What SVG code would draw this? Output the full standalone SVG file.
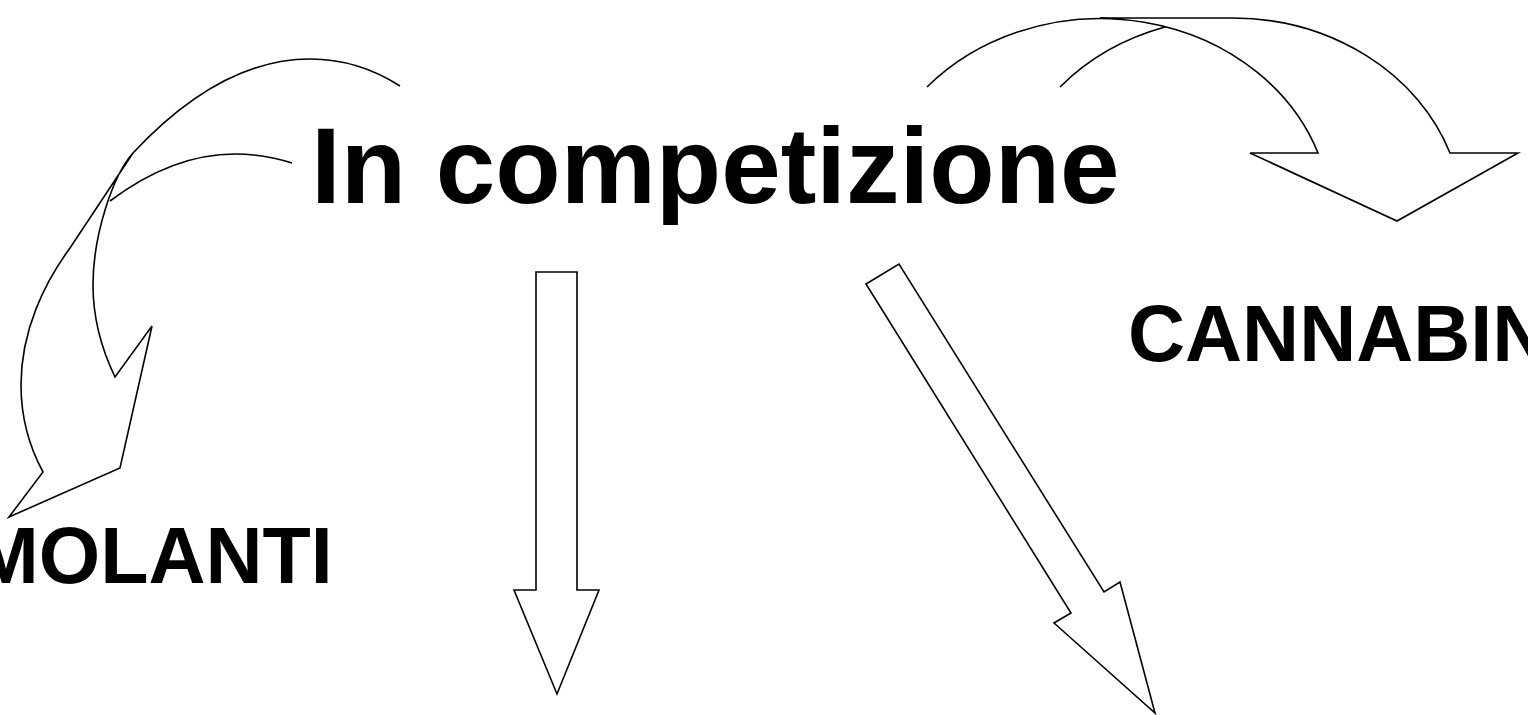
<svg xmlns="http://www.w3.org/2000/svg" width="1528" height="715" viewBox="0 0 1528 715">
  <style>
    .arrow { fill: none; stroke: #000; stroke-width: 1.6; stroke-linejoin: miter; }
    .label { font-family: "Liberation Sans", Arial, sans-serif; font-weight: bold; fill: #000; }
  </style>
  <rect width="1528" height="715" fill="#fff"/>

  <g id="connectors">
    <!-- curved arrow sweeping left and down -->
    <g id="arrow-left">
      <path class="arrow" d="M400,86 C372,68 342,59 310,59 Q221,59 133,153 C113,175 93,235 93,285 C93,320 102,350 115,377 L152,326 L120,468 L9,517 L43,472 C30,448 21,420 21,385 C21,330 45,282 70,248 L133,153"/>
      <path class="arrow" d="M292,163 Q263.5,154 235,154 Q172.5,154 110,201"/>
    </g>
    <!-- straight arrow pointing down -->
    <path id="arrow-down" class="arrow" d="M536,272 H577 V590 H599 L557,694 L514,590 H536 Z"/>
    <!-- diagonal arrow pointing down-right -->
    <path id="arrow-diagonal" class="arrow" d="M866,284 L899,264 L1104,592 L1120,582 L1155,713 L1054,623 L1071,613 Z"/>
    <!-- curved arrow sweeping right and down -->
    <g id="arrow-right">
      <path class="arrow" d="M927,87 A231,202 0 0 1 1318,153 L1250,153 L1397,221 L1518,153 L1450,153 A231,202 0 0 0 1233,18 H1100"/>
      <path class="arrow" d="M1060,87 A231,202 0 0 1 1165,27"/>
    </g>
  </g>

  <g id="node-title">
    <text class="label" x="311" y="203" font-size="107">In competizione</text>
  </g>
  <g id="node-stimolanti">
    <text class="label" x="-27" y="583" font-size="79">MOLANTI</text>
  </g>
  <g id="node-cannabinoidi">
    <text class="label" x="1128" y="361" font-size="79">CANNABIN</text>
  </g>
</svg>
